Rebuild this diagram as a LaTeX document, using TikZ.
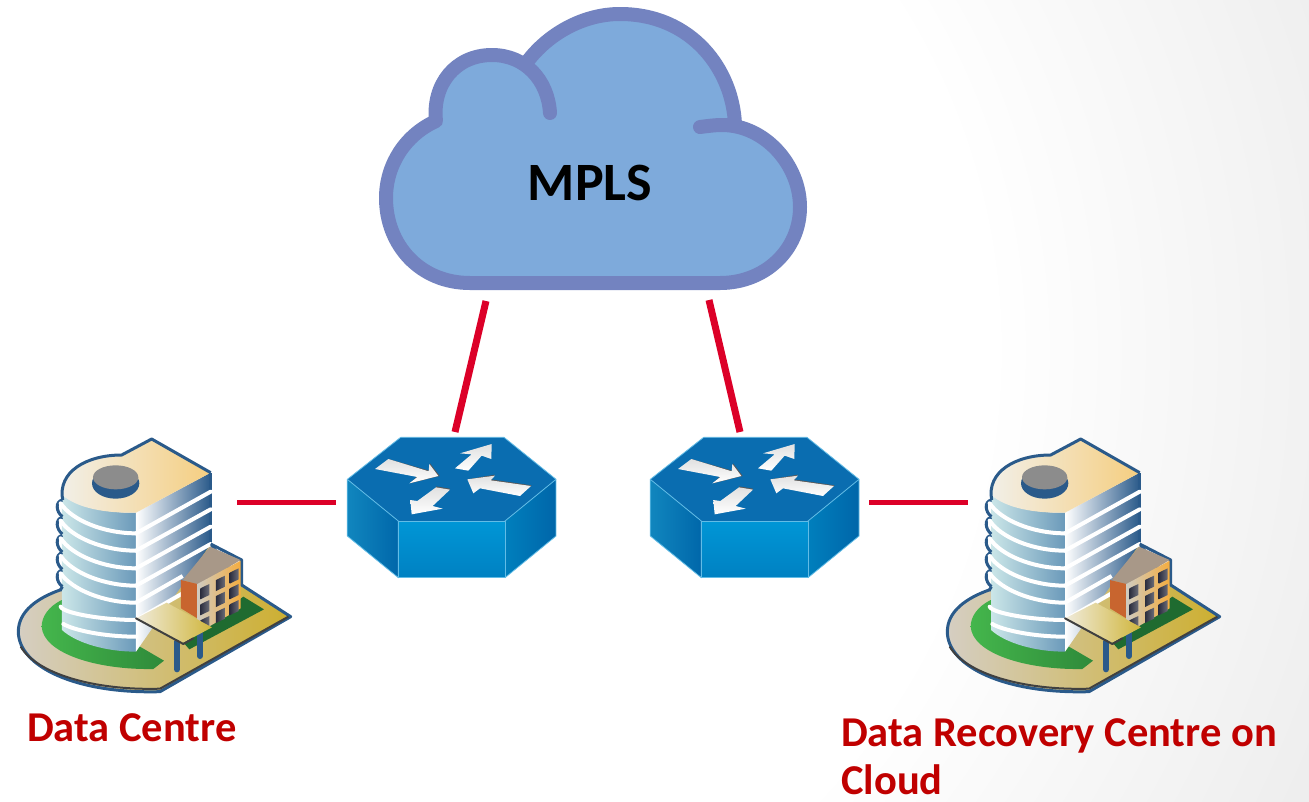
\documentclass[tikz,border=0pt]{standalone}
\usepackage{fontspec}
\setmainfont{Carlito}
\definecolor{cloudline}{HTML}{7383C0}
\definecolor{cloudfill}{HTML}{7EAADB}
\definecolor{linkred}{HTML}{DC0028}
\definecolor{labelred}{HTML}{C00000}
\definecolor{bblue}{HTML}{2A5A8A}
\definecolor{baseL}{HTML}{D5CEC2}
\definecolor{baseR}{HTML}{CDAF30}
\definecolor{grassL}{HTML}{44B64C}
\definecolor{grassR}{HTML}{2F8A3A}
\definecolor{grassD}{HTML}{1F6B30}
\definecolor{towerL}{HTML}{CBE6E8}
\definecolor{towerR}{HTML}{6B9ABA}
\definecolor{roofL}{HTML}{F2F0EA}
\definecolor{roofR}{HTML}{F5CE80}
\definecolor{blockroof}{HTML}{A89888}
\definecolor{blockside}{HTML}{C8652F}
\definecolor{blockL}{HTML}{CFCBC0}
\definecolor{blockR}{HTML}{F5AD3F}
\definecolor{canopyL}{HTML}{F0EBDC}
\definecolor{canopyR}{HTML}{D0B63C}
\definecolor{winD}{HTML}{2B2D3E}
\definecolor{rtop}{HTML}{0A6DB0}
\definecolor{rleftL}{HTML}{1186BE}
\definecolor{rleftR}{HTML}{0067AA}
\definecolor{rrightL}{HTML}{007FBD}
\definecolor{rrightR}{HTML}{0066A9}
\definecolor{rfrontT}{HTML}{0096D6}
\definecolor{rfrontB}{HTML}{0081C2}
\definecolor{redgec}{HTML}{62BCE6}
\tikzset{
  linkthick/.style={draw=linkred,line width=7pt},
  linkthin/.style={draw=linkred,line width=5pt},
  sitelabel/.style={text=labelred,font=\fontsize{42.5}{49}\selectfont\bfseries,inner sep=0pt,anchor=base west},
  redge/.style={draw=redgec,line width=.8pt,line join=round},
  rarrow/.style={top color=black!12,bottom color=white,draw=none},
  rshadow/.style={fill=black!65,draw=none},
  building/.pic={
    \begin{scope}[shift={(0,420)},x=0.33333pt,y=-0.33333pt,line join=round]
      % base
      \shade[left color=baseL,right color=baseR,draw=bblue,line width=3pt]
        (180,510) .. controls (110,535) and (55,575) .. (55,635)
        .. controls (55,740) and (230,822) .. (480,815) -- (872,590) -- (725,495) -- (630,370) -- cycle;
      \draw[black!75,line width=2pt] (62,680) .. controls (110,760) and (280,812) .. (480,806) -- (865,590);
      % green
      \shade[left color=grassL,right color=grassR,draw=none]
        (185,540) .. controls (145,560) and (125,590) .. (125,620)
        .. controls (130,700) and (290,750) .. (460,747) -- (492,722) -- (420,680) -- cycle;
      \fill[grassD] (730,530) -- (792,568) -- (568,688) -- (548,665) -- cycle;
      % left face
      \shade[left color=towerL,right color=towerR,draw=none]
        (186,225) -- (186,630) .. controls (230,670) and (320,695) .. (408,695) -- (408,278) .. controls (320,280) and (230,260) .. cycle;
      % right face
      \shade[left color=white,right color=bblue,draw=none]
        (408,278) -- (632,158) -- (632,372) -- (632,372) -- (408,695) -- cycle;
      % scallops
      \foreach \yb in {240,292,346,398,450}{
        \draw[bblue,line width=3pt] (187,\yb) .. controls (165,\yb+5) and (168,\yb+35) .. (187,\yb+50);
      }
      \draw[bblue,line width=3pt] (187,500) -- (180,512);
      % top
      \shade[left color=roofL,right color=roofR,draw=none]
        (188,225) .. controls (175,150) and (260,105) .. (365,105) -- (455,57) -- (632,158) -- (408,278)
        .. controls (320,280) and (230,265) .. cycle;
      \draw[bblue,line width=3pt] (188,240) .. controls (172,155) and (260,105) .. (365,105) -- (455,57) -- (632,158);
      % stripes left
      \foreach \ya/\yb in {250/340,302/392,355/445,408/497,460/548}{
        \draw[white,line width=4pt,line cap=round] (182,\ya) .. controls (215,\yb-40) and (310,\yb) .. (408,\yb);
      }
      \draw[white,line width=4pt,line cap=round] (182,560) .. controls (190,580) and (310,600) .. (408,600);
      \draw[white,line width=4pt,line cap=round] (190,612) .. controls (220,630) and (310,650) .. (408,650);
      % right outline
      \draw[bblue,line width=3pt] (632,158) -- (632,372);
      % stripes right
      \foreach \ya/\yb in {340/215,392/268,445/320,497/372}{
        \draw[white,line width=4pt,line cap=round] (408,\ya) -- (632,\yb);
      }
      \draw[white,line width=4pt] (408,548) -- (548,468);
      \draw[white,line width=4pt] (408,600) -- (548,520);
      % cap
      \fill[bblue] (347,190) ellipse [x radius=71,y radius=46];
      \fill[black!45] (347,172) ellipse [x radius=68,y radius=36];
      % small block
      \draw[bblue,line width=3pt] (632,372) -- (725,420) -- (725,495);
      \fill[blockroof] (548,480) -- (630,380) -- (722,420) -- (595,495) -- cycle;
      \fill[blockside] (543,480) -- (592,492) -- (592,595) -- (543,565) -- cycle;
      \shade[left color=blockL,right color=blockR] (592,492) -- (722,422) -- (722,565) -- (592,640) -- cycle;
      \foreach \wx/\wy in {0/0,47/-25,88/-47,0/48,47/23,88/0,0/96,47/71,88/48}{
        \shade[left color=winD,right color=winD!70!white] (601+\wx,505+\wy) -- (628+\wx,492+\wy) -- (628+\wx,525+\wy) -- (601+\wx,538+\wy) -- cycle;
      }
      % canopy
      \draw[bblue,line width=6pt,line cap=round] (531,665) -- (531,748);
      \draw[bblue,line width=6pt,line cap=round] (600,640) -- (600,708);
      \shade[left color=canopyL,right color=canopyR] (408,595) -- (500,548) -- (636,622) -- (550,668) -- cycle;
      \draw[black!75,line width=2pt,line cap=round] (408,595) -- (550,672) -- (580,655);
    \end{scope}
  },
  router/.pic={
    \begin{scope}[shift={(330,420)},x=0.33333pt,y=-0.33333pt]
      \fill[white] (20,36) rectangle (729,489);
      \fill[rtop] (212,52) -- (522,52) -- (678,178) -- (525,303) -- (205,303) -- (52,178) -- cycle;
      \shade[left color=rleftL,right color=rleftR,redge] (52,178) -- (205,303) -- (205,473) -- (52,348) -- cycle;
      \shade[left color=rrightL,right color=rrightR,redge] (525,303) -- (678,178) -- (678,348) -- (525,473) -- cycle;
      \shade[top color=rfrontT,bottom color=rfrontB,redge] (205,303) -- (525,303) -- (525,473) -- (205,473) -- cycle;
      \draw[redge] (52,178) -- (212,52) -- (522,52) -- (678,178);
      % arrows
      \fill[rshadow] (175,117) -- (298,152) -- (300,130) -- (329,168) -- (240,190) -- (262,168) -- cycle;
      \shade[rarrow] (135,147) -- (175,117) -- (296,154) -- (298,132) -- (325,168) -- (238,190) -- (262,171) -- cycle;
      \shade[rarrow] (375,145) -- (425,103) -- (390,100) -- (485,72) -- (484,117) -- (455,107) -- (415,152) -- cycle;
      \fill[rshadow] (412,178) -- (495,164) -- (482,178) -- (605,196) -- (600,200) -- (480,184) -- cycle;
      \shade[rarrow] (412,178) -- (495,167) -- (482,181) -- (603,198) -- (570,228) -- (450,205) -- (430,220) -- cycle;
      \fill[rshadow] (318,199) -- (360,206) -- (358,211) -- (320,204) -- cycle;
      \shade[rarrow] (245,283) -- (241,240) -- (262,243) -- (318,202) -- (360,209) -- (308,258) -- (338,266) -- cycle;
    \end{scope}
  }
}
\begin{document}
\begin{tikzpicture}[x=1pt,y=-1pt]
  \useasboundingbox (0,0) rectangle (1309,801);
  \begin{scope}
    \clip (0,0) rectangle (1309,801);
    \definecolor{bgstep}{RGB}{238,238,238}
    \fill[bgstep] (0,0) rectangle (1309,801);
    \foreach \i in {0,...,17}{
      \pgfmathtruncatemacro{\v}{238+\i}
      \pgfmathsetmacro{\r}{1060-24*\i}
      \definecolor{bgstep}{RGB}{\v,\v,\v}
      \fill[bgstep] (350,350) circle (\r);
    }
  \end{scope}

  % cloud
  \fill[cloudfill] (470,283) .. controls (420,283) and (386,245) .. (386,198)
    .. controls (386,165) and (405,135) .. (436,121)
    .. controls (432,85) and (455,55) .. (492,55)
    .. controls (505,55) and (517,58) .. (527,65)
    .. controls (548,34) and (583,14) .. (620,14)
    .. controls (692,14) and (733,70) .. (735,123)
    .. controls (770,130) and (800,165) .. (800,207)
    .. controls (800,250) and (765,283) .. (720,283) -- cycle;
  \draw[cloudline,line width=14pt,line cap=round,line join=round]
    (550,113) .. controls (548,80) and (525,55) .. (492,55)
    .. controls (455,55) and (432,85) .. (436,121)
    .. controls (405,135) and (386,165) .. (386,198)
    .. controls (386,245) and (420,283) .. (470,283) -- (720,283)
    .. controls (765,283) and (800,250) .. (800,207)
    .. controls (800,165) and (765,125) .. (722,125)
    .. controls (715,125) and (708,126) .. (700,127);
  \draw[cloudline,line width=14pt,line cap=butt]
    (527,62) .. controls (548,34) and (583,14) .. (620,14)
    .. controls (692,14) and (733,70) .. (735,125);
  \node[inner sep=0pt,font=\fontsize{54}{54}\selectfont\bfseries,text=black] (mpls) at (590,183) {MPLS};

  % equipment
  \pic (siteA) at (0,0) {building};
  \pic (siteB) at (929,0) {building};
  \pic (routerA) at (0,0) {router};
  \pic (routerB) at (303,0) {router};

  % connector ends
  \coordinate (cloudL) at (486,301);
  \coordinate (cloudR) at (709,300);
  \coordinate (routerAtop) at (455,432);
  \coordinate (routerBtop) at (740,432);
  \coordinate (routerAleft) at (336,502);
  \coordinate (routerBright) at (869,502);
  \coordinate (siteAright) at (237,502);
  \coordinate (siteBleft) at (968,502);
  \draw[linkthick] (cloudL) -- (routerAtop);
  \draw[linkthick] (cloudR) -- (routerBtop);
  \draw[linkthin] (siteAright) -- (routerAleft);
  \draw[linkthin] (routerBright) -- (siteBleft);

  % labels
  \node[sitelabel] (labelA) at (27,741) {Data Centre};
  \node[sitelabel] (labelB) at (841,746) {Data Recovery Centre on};
  \node[sitelabel] (labelC) at (841,794) {Cloud};
\end{tikzpicture}
\end{document}
